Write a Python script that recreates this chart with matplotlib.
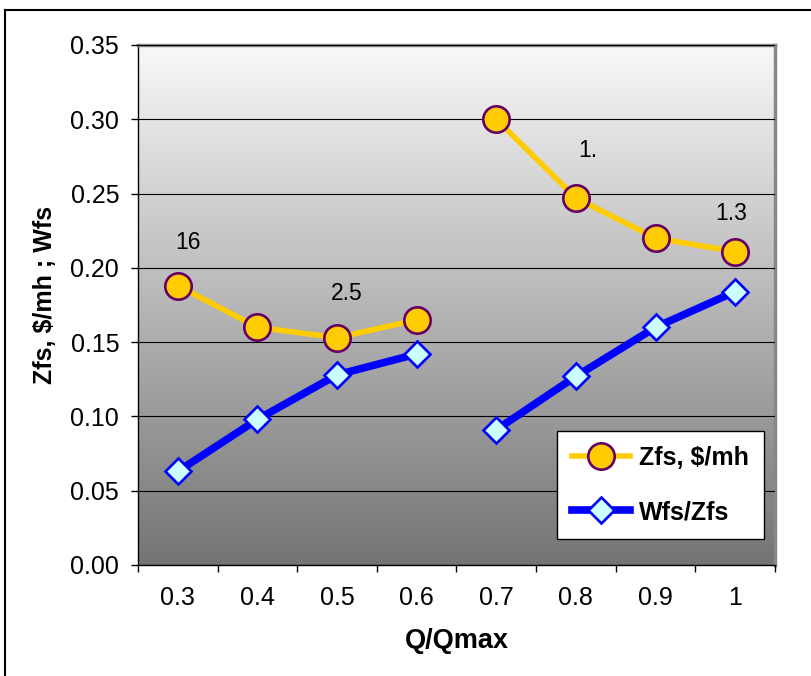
import numpy as np
import matplotlib
matplotlib.use("Agg")
import matplotlib.pyplot as plt
from matplotlib.colors import LinearSegmentedColormap
from matplotlib.lines import Line2D

plt.rcParams['font.family'] = ['Liberation Sans', 'DejaVu Sans']

categories = ['0.3', '0.4', '0.5', '0.6', '0.7', '0.8', '0.9', '1']
zfs = [0.188, 0.160, 0.153, 0.165, 0.300, 0.247, 0.220, 0.211]
wfs_zfs = [0.063, 0.098, 0.128, 0.142, 0.091, 0.127, 0.160, 0.184]
# the two runs of the study are drawn as separate segments
segments = [(0, 4), (4, 8)]
# text labels attached to Zfs points: (index, text, dx, dy in pixels)
point_labels = [(0, '16', 10, 43), (2, '2.5', 10, 44), (5, '1.', 12, 48), (7, '1.3', -4, 38)]

W, H = 812, 676
fig = plt.figure(figsize=(W / 100, H / 100), dpi=100)
ax = fig.add_axes([138 / W, 1 - 565 / H, 637 / W, 520 / H])

x = np.arange(len(categories))

# grey gradient background of the plot area
bg = LinearSegmentedColormap.from_list('bg', ['#f8f8f8', '#747474'])
ax.imshow(np.linspace(0, 1, 256).reshape(-1, 1), cmap=bg, aspect='auto',
          extent=[-0.5, 7.5, 0, 0.35], origin='upper', zorder=0)

for i, (a, b) in enumerate(segments):
    ax.plot(x[a:b], zfs[a:b], color='#ffcc00', lw=4.0, marker='o', ms=19,
            mfc='#ffcc00', mec='#660066', mew=1.9, zorder=3,
            label='Zfs, $/mh' if i == 0 else None)
    ax.plot(x[a:b], wfs_zfs[a:b], color='#0000ff', lw=5.5, marker='D', ms=13.5,
            mfc='#ccffff', mec='#0000ff', mew=1.9, zorder=3,
            label='Wfs/Zfs' if i == 0 else None)

for idx, txt, dx, dy in point_labels:
    ax.annotate(txt, (x[idx], zfs[idx]), xytext=(dx, dy), textcoords='offset pixels',
                ha='center', va='center', fontsize=16.5, color='black', zorder=4)

ax.set_xlim(-0.5, 7.5)
ax.set_ylim(0, 0.35)

ax.set_yticks(np.arange(0, 0.351, 0.05))
ax.set_yticklabels(['%.2f' % v for v in np.arange(0, 0.351, 0.05)])
ax.set_xticks(np.arange(-0.5, 8, 1))
ax.set_xticklabels([])
ax.set_xticks(x, minor=True)
ax.set_xticklabels(categories, minor=True)
ax.tick_params(axis='x', which='minor', length=0, pad=15, labelsize=18)
ax.tick_params(axis='x', which='major', length=5, width=1, color='black')
ax.tick_params(axis='y', length=5, width=1, color='black', pad=8.5, labelsize=18)

ax.yaxis.grid(True, color='black', lw=0.8, zorder=1)
ax.set_axisbelow(False)
for gl in ax.get_ygridlines():
    gl.set_zorder(1)

for side in ('left', 'bottom'):
    ax.spines[side].set_color('black')
    ax.spines[side].set_linewidth(1)
for side in ('top', 'right'):
    ax.spines[side].set_color('#888888')
    ax.spines[side].set_linewidth(2.5)

ax.set_xlabel('Q/Qmax', fontsize=19.5, fontweight='bold')
ax.xaxis.set_label_coords(0.5, -(628 - 565) / 520)
ax.set_ylabel('Zfs, $/mh ; Wfs', fontsize=18, fontweight='bold')
ax.yaxis.set_label_coords(-(138 - 57) / 637, (565 - 295) / 520)

leg = ax.legend(loc='lower right', bbox_to_anchor=(0.982, 0.05), borderaxespad=0,
                prop={'weight': 'bold', 'size': 18}, frameon=True, fancybox=False,
                framealpha=1, edgecolor='black', handlelength=2.3,
                labelspacing=1.2, borderpad=0.6, handletextpad=0.35)
leg.get_frame().set_linewidth(1)
leg.set_zorder(5)

# outer chart frame (only top and left edges fall inside the image)
fig.add_artist(Line2D([5 / W, 5 / W], [0, 1 - 10 / H], color='black', lw=1.5))
fig.add_artist(Line2D([5 / W, 1], [1 - 10 / H, 1 - 10 / H], color='black', lw=1.5))

fig.savefig('out.png', dpi=100)
